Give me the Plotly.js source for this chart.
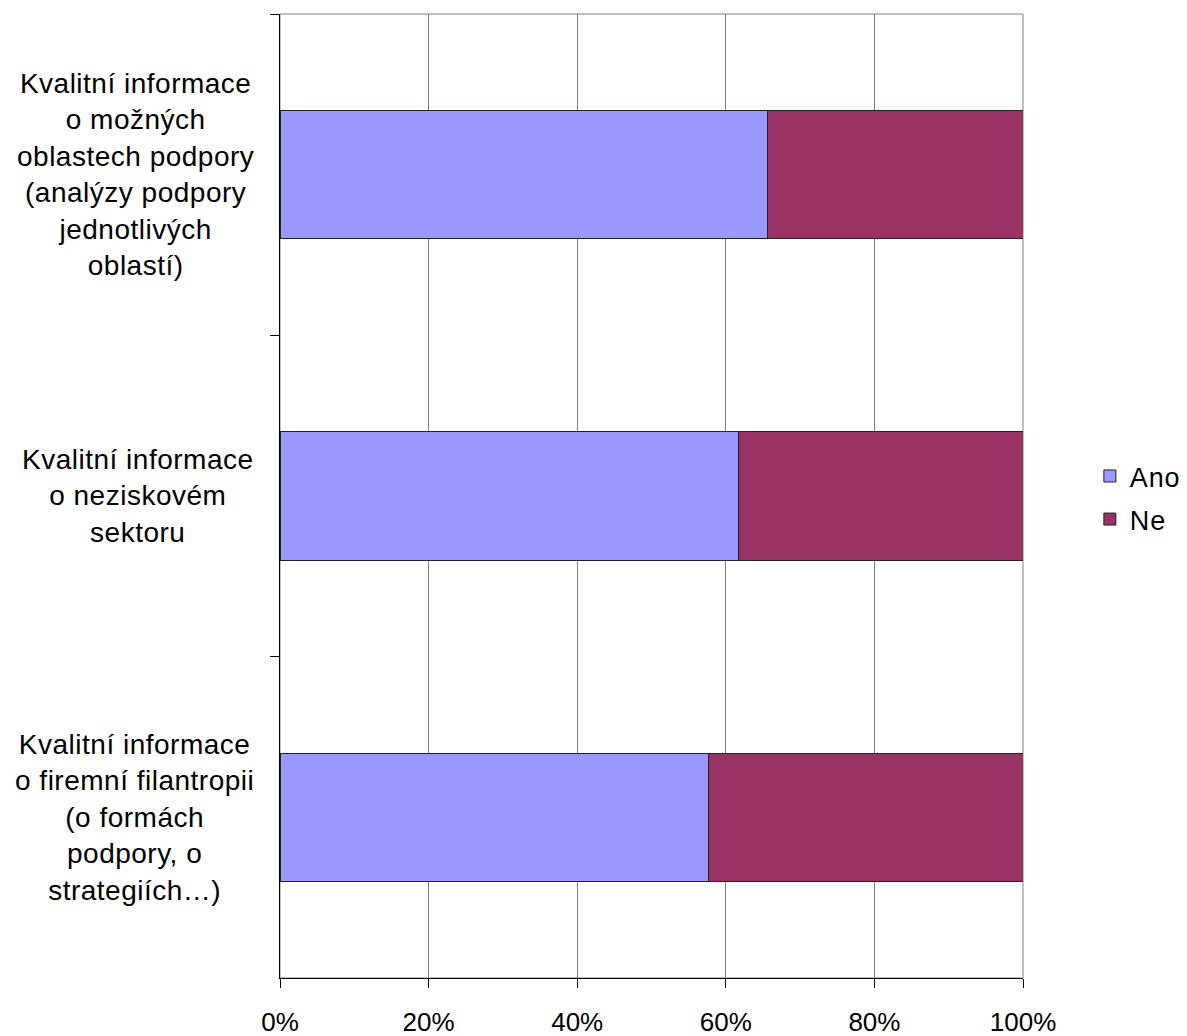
<!DOCTYPE html>
<html>
<head>
<meta charset="utf-8">
<script src="https://cdn.plot.ly/plotly-3.0.1.min.js"></script>
<style>
html,body{margin:0;padding:0;background:#fff;}
#chart{width:1187px;height:1036px;}
text.annotation-text{letter-spacing:0.5px;}
text.legendtext{letter-spacing:0.8px;}
</style>
</head>
<body>
<div id="chart"></div>
<script>
const categories = [
  "Kvalitní informace<br>o možných<br>oblastech podpory<br>(analýzy podpory<br>jednotlivých<br>oblastí)",
  "Kvalitní informace<br>o neziskovém<br>sektoru",
  "Kvalitní informace<br>o firemní filantropii<br>(o formách<br>podpory, o<br>strategiích…)"
];
const seriesNames = ["Ano", "Ne"];
const ano = [0.656, 0.617, 0.577];
const ne = [0.344, 0.383, 0.423];
const xTickVals = [0, 0.2, 0.4, 0.6, 0.8, 1];
const xTickText = ["0%", "20%", "40%", "60%", "80%", "100%"];

const FONT = "Liberation Sans, Arial, sans-serif";

const traces = [
  {type:"bar", orientation:"h", name:seriesNames[0], y:categories, x:ano,
   marker:{color:"#9999FF", line:{color:"#222222", width:1}}, legendgroup:"a", hoverinfo:"skip"},
  {type:"bar", orientation:"h", name:seriesNames[1], y:categories, x:ne,
   marker:{color:"#993366", line:{color:"#222222", width:1}}, legendgroup:"b", hoverinfo:"skip"}
];

const annotations = categories.map(c => ({
  xref:"paper", yref:"y", x:0, y:c, xanchor:"right", yanchor:"middle",
  xshift:-24, text:c, showarrow:false, align:"center",
  font:{family:FONT, size:28, color:"#000"}
}));

const layout = {
  width:1187, height:1036,
  margin:{l:280, r:164, t:14, b:58, pad:0, autoexpand:false},
  paper_bgcolor:"#fff", plot_bgcolor:"#fff",
  barmode:"stack", bargap:0.6,
  font:{family:FONT, size:26, color:"#000"},
  showlegend:true,
  legend:{x:1.090, xanchor:"left", y:0.498, yanchor:"middle", traceorder:"grouped",
          tracegroupgap:5, font:{family:FONT, size:27, color:"#000"}, bgcolor:"rgba(0,0,0,0)"},
  xaxis:{range:[0,1], tickvals:xTickVals, ticktext:xTickText, showgrid:true, gridcolor:"#808080", gridwidth:1,
         zeroline:false, showline:true, linecolor:"#000", linewidth:1, ticks:"outside", ticklen:9, tickcolor:"#000",
         ticklabelstandoff:12, tickfont:{family:FONT, size:26, color:"#000"}, fixedrange:true},
  yaxis:{type:"category", autorange:"reversed", showticklabels:false, showgrid:false, zeroline:false,
         showline:true, linecolor:"#000", linewidth:1, ticks:"outside", ticklen:9, tickcolor:"#000",
         tickson:"boundaries", fixedrange:true},
  shapes:[{type:"rect", xref:"paper", yref:"paper", x0:0, x1:1, y0:0, y1:1, line:{color:"#808080", width:1}, layer:"below"}],
  annotations:annotations
};

Plotly.newPlot("chart", traces, layout, {displayModeBar:false, staticPlot:true});
</script>
</body>
</html>
